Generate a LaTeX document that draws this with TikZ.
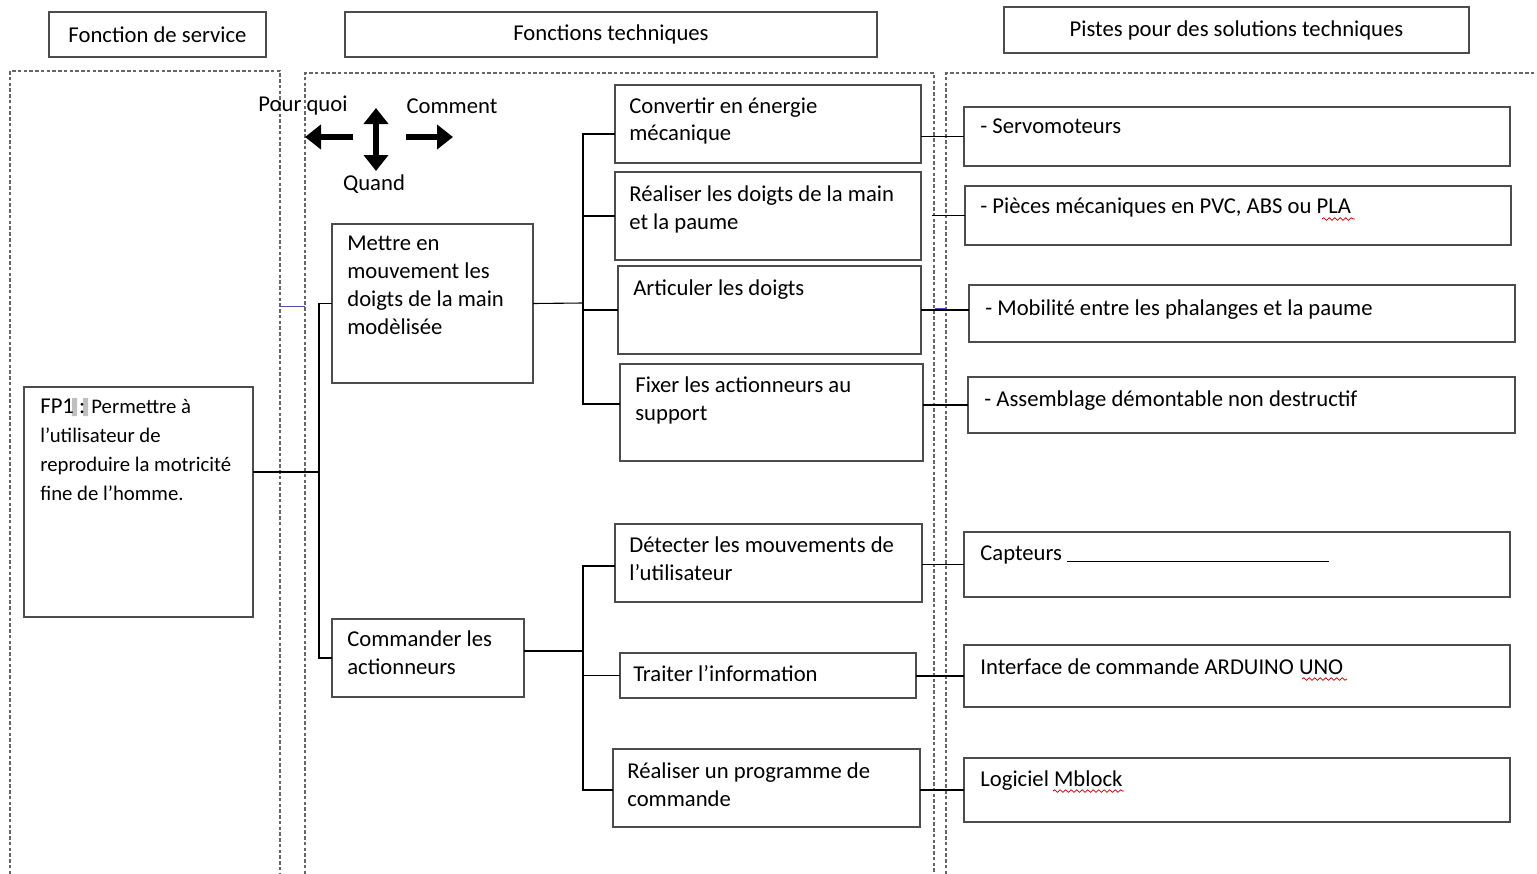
\documentclass[tikz,border=0pt]{standalone}
\usepackage{fontspec}
\setmainfont{Carlito}
\usetikzlibrary{positioning,fit,arrows.meta,decorations.pathmorphing}

\begin{document}
\begin{tikzpicture}[x=0.2mm,y=-0.2mm, font=\fontsize{12.9}{15.9}\selectfont,
	boxx/.style={draw=black!70, line width=0.3mm, inner sep=0, outer sep=0},
	txt/.style={anchor=north west, inner sep=0, align=left},
	dsh/.style={draw=black!60, line width=0.25mm, dash pattern=on 0.7mm off 0.45mm},
	con/.style={line width=0.22mm},
	arw/.style={line width=1.2mm, -{Triangle[length=3.2mm,width=4.8mm]}},
	wav/.style={red!80!black, line width=0.15mm, decorate,
		decoration={snake, amplitude=0.25mm, segment length=1.1mm}}]
	\useasboundingbox (0,0) rectangle (1537,874);

	\node [boxx, fit={(49,12) (266,57)}, label={center:Fonction de service}] (fs) {};
	\node [boxx, fit={(345,12) (877,57)}, label={center:Fonctions techniques}] (ft) {};
	\node [boxx, fit={(1004,7) (1469,53)}, label={center:Pistes pour des solutions techniques}] (ps) {};

	\draw [dsh] (10,874) -- (10,71) -- (280,71) -- (280,874);
	\draw [dsh] (305,874) -- (305,73) -- (934,73) -- (934,874);
	\draw [dsh] (946,874) -- (946,73) -- (1537,73);

	\node (pq) at (303,106) {Pour quoi};
	\node (cm) at (452,106) {Comment};
	\node (qd) at (374,184) {Quand};
	\draw [arw] (353,137) -- (305,137);
	\draw [arw] (406,137) -- (453,137);
	\draw [arw, {Triangle[length=3.2mm,width=4.8mm]}-{Triangle[length=3.2mm,width=4.8mm]}] (376,108) -- (376,171);

	\node [boxx, fit={(24,387) (253,617)}] (fp1) {};
	\fill [black!25] (72,398) rectangle (77,416) (83,398) rectangle (88,416);
	\node [txt, font=\fontsize{11.8}{16.5}\selectfont] (tfp1) at ([shift={(16,12)}]fp1.north west)
		{{\fontsize{12.9}{16.5}\selectfont FP1 :} Permettre à\\l'utilisateur de\\reproduire la motricité\\fine de l’homme.};

	\node [boxx, fit={(332,224) (533,383)}] (mvt) {};
	\node [txt] (tmvt) at ([shift={(15,12)}]mvt.north west) {Mettre en\\mouvement les\\doigts de la main\\modèlisée};
	\node [boxx, fit={(332,619) (524,697)}] (cmd) {};
	\node [txt] (tcmd) at ([shift={(15,11)}]cmd.north west) {Commander les\\actionneurs};

	\node [boxx, fit={(615,85) (921,163)}] (cnv) {};
	\node [txt] (tcnv) at ([shift={(14,12)}]cnv.north west) {Convertir en énergie\\mécanique};
	\node [boxx, fit={(615,172) (921,260)}] (dgt) {};
	\node [txt] (tdgt) at ([shift={(14,13)}]dgt.north west) {Réaliser les doigts de la main\\et la paume};
	\node [boxx, fit={(618,266) (921,354)}] (art) {};
	\node [txt] (tart) at ([shift={(15,13)}]art.north west) {Articuler les doigts};
	\node [boxx, fit={(620,364) (923,461)}] (fix) {};
	\node [txt] (tfix) at ([shift={(15,12)}]fix.north west) {Fixer les actionneurs au\\support};
	\node [boxx, fit={(615,524) (922,602)}] (det) {};
	\node [txt] (tdet) at ([shift={(14,12)}]det.north west) {Détecter les mouvements de\\l’utilisateur};
	\node [boxx, fit={(620,653) (916,698)}] (tra) {};
	\node [txt] (ttra) at ([shift={(13,12)}]tra.north west) {Traiter l’information};
	\node [boxx, fit={(613,749) (920,827)}] (prg) {};
	\node [txt] (tprg) at ([shift={(14,13)}]prg.north west) {Réaliser un programme de\\commande};

	\node [boxx, fit={(964,107) (1510,166)}] (s1) {};
	\node [txt] (ts1) at ([shift={(16,11)}]s1.north west) {- Servomoteurs};
	\node [boxx, fit={(965,186) (1511,245)}] (s2) {};
	\node [txt] (ts2) at ([shift={(15,12)}]s2.north west) {- Pièces mécaniques en PVC, ABS ou PLA};
	\node [boxx, fit={(969,285) (1515,342)}] (s3) {};
	\node [txt] (ts3) at ([shift={(16,14)}]s3.north west) {- Mobilité entre les phalanges et la paume};
	\node [boxx, fit={(968,377) (1515,433)}] (s4) {};
	\node [txt] (ts4) at ([shift={(16,13)}]s4.north west) {- Assemblage démontable non destructif};
	\node [boxx, fit={(964,532) (1510,597)}] (s5) {};
	\node [txt] (ts5) at ([shift={(16,13)}]s5.north west) {Capteurs \rule[-0.4mm]{52.4mm}{0.25mm}};
	\node [boxx, fit={(964,645) (1510,707)}] (s6) {};
	\node [txt] (ts6) at ([shift={(16,13)}]s6.north west) {Interface de commande ARDUINO UNO};
	\node [boxx, fit={(964,758) (1510,822)}] (s7) {};
	\node [txt] (ts7) at ([shift={(16,12)}]s7.north west) {Logiciel Mblock};

	\draw [wav] (1322,219) -- (1355,219);
	\draw [wav] (1302,679) -- (1347,679);
	\draw [wav] (1053,791) -- (1124,791);

	\coordinate (b0) at (319,472);
	\coordinate (b1) at (583,303);
	\coordinate (b2) at (583,651);
	\draw [con] (fp1.east |- b0) -- (b0);
	\draw [con] (mvt.west) -| (b0) |- (cmd.west);
	\draw [con] (mvt.east) -- (b1);
	\draw [con] (cnv.west |- 0,134) -| (b1) |- (fix.west |- 0,404);
	\draw [con] (dgt.west) -- (dgt.west -| b1);
	\draw [con] (art.west) -- (art.west -| b1);
	\draw [con] (cmd.east |- b2) -- (b2);
	\draw [con] (det.west |- 0,566) -| (b2) |- (prg.west |- 0,790);
	\draw [con] (tra.west) -- (tra.west -| b2);

	\draw [con] (cnv.east |- s1.west) -- (s1.west);
	\draw [con] ([xshift=6]dgt.east |- s2.west) -- (s2.west);
	\draw [con] (art.east |- 0,310) -- (s3.west |- 0,310);
	\draw [con] (fix.east |- s4.west) -- (s4.west);
	\draw [con] (det.east |- s5.west) -- (s5.west);
	\draw [con] (tra.east |- s6.west) -- (s6.west);
	\draw [con] (prg.east |- s7.west) -- (s7.west);
	\draw [blue!40!gray] (280,306) -- (305,306);
	\draw [blue!40!gray] (935,308) -- (947,308);
\end{tikzpicture}
\end{document}
